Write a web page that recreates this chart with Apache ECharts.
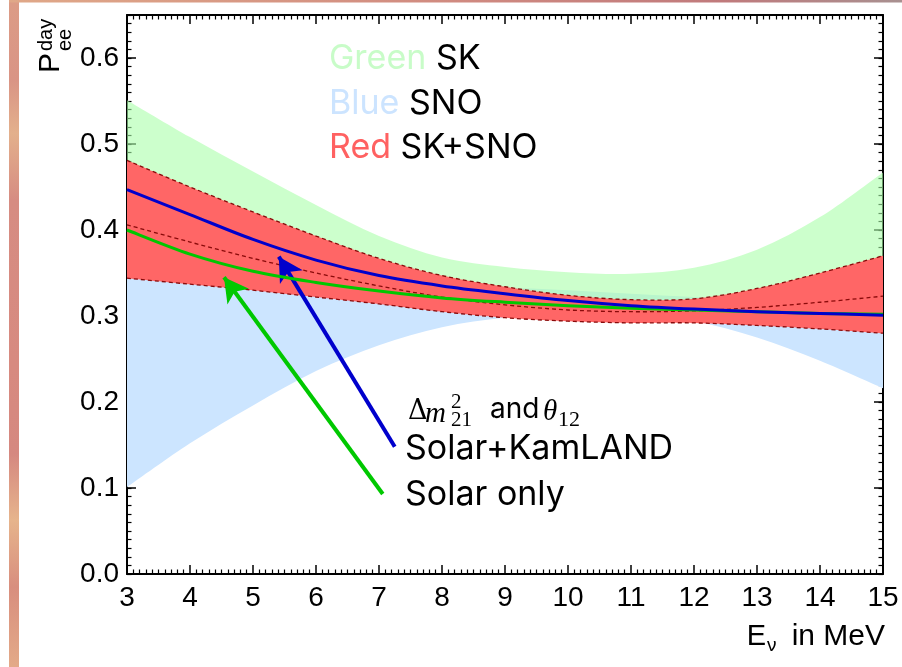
<!DOCTYPE html>
<html>
<head>
<meta charset="utf-8">
<script src="https://cdn.jsdelivr.net/npm/echarts@6/dist/echarts.min.js"></script>
<style>
  html, body { margin: 0; padding: 0; background: #ffffff; }
  #chart { width: 902px; height: 667px; }
</style>
</head>
<body>
<div id="chart"></div>
<script>
// Neutrino energy grid (MeV)
const energy = [3, 4, 5, 6, 7, 8, 9, 10, 11, 12, 13, 14, 15];

// SK allowed band
const skLow  = [0.400, 0.380, 0.362, 0.347, 0.335, 0.324, 0.316, 0.311, 0.307, 0.305, 0.304, 0.303, 0.302];
const skHigh = [0.551, 0.508, 0.468, 0.429, 0.393, 0.368, 0.357, 0.351, 0.349, 0.356, 0.377, 0.415, 0.467];

// SNO allowed band
const snoLow  = [0.101, 0.152, 0.196, 0.236, 0.266, 0.287, 0.298, 0.301, 0.300, 0.294, 0.275, 0.248, 0.216];
const snoHigh = [0.370, 0.362, 0.355, 0.348, 0.342, 0.337, 0.333, 0.330, 0.326, 0.322, 0.318, 0.314, 0.310];

// SK+SNO combined band and its central curve
const comboLow  = [0.344, 0.337, 0.330, 0.322, 0.314, 0.305, 0.298, 0.294, 0.292, 0.292, 0.289, 0.285, 0.280];
const comboMid  = [0.406, 0.386, 0.367, 0.350, 0.335, 0.322, 0.313, 0.307, 0.305, 0.306, 0.310, 0.316, 0.323];
const comboHigh = [0.481, 0.450, 0.421, 0.393, 0.367, 0.347, 0.334, 0.324, 0.319, 0.320, 0.332, 0.350, 0.370];

// Best-fit predictions
const solarOnly    = [0.400, 0.372, 0.352, 0.339, 0.329, 0.321, 0.316, 0.312, 0.309, 0.307, 0.305, 0.303, 0.302];
const solarKamLAND = [0.447, 0.418, 0.389, 0.365, 0.347, 0.335, 0.326, 0.318, 0.312, 0.308, 0.305, 0.303, 0.301];

// Arrow annotations: [tail, head] as [E, P]
const arrowKamLAND = [[7.25, 0.148], [5.41, 0.369]];
const arrowSolar   = [[7.06, 0.093], [4.54, 0.345]];

// Smooth cubic segments through already-projected pixel points
function bezierThrough(pts) {
  let d = '';
  for (let i = 0; i < pts.length - 1; i++) {
    const p0 = pts[Math.max(i - 1, 0)], p1 = pts[i], p2 = pts[i + 1], p3 = pts[Math.min(i + 2, pts.length - 1)];
    const c1 = [p1[0] + (p2[0] - p0[0]) / 6, p1[1] + (p2[1] - p0[1]) / 6];
    const c2 = [p2[0] - (p3[0] - p1[0]) / 6, p2[1] - (p3[1] - p1[1]) / 6];
    d += ` C${c1[0]} ${c1[1]} ${c2[0]} ${c2[1]} ${p2[0]} ${p2[1]}`;
  }
  return d;
}
const project = (api, ys) => energy.map((e, i) => api.coord([e, ys[i]]));

function bandSeries(name, lo, hi, color, z) {
  return {
    name: name, type: 'custom', coordinateSystem: 'cartesian2d', z: z, silent: true,
    data: [[energy[0], lo[0]]],
    renderItem: (params, api) => {
      const up = project(api, hi);
      const dn = project(api, lo).reverse();
      const d = `M${up[0][0]} ${up[0][1]}` + bezierThrough(up) + ` L${dn[0][0]} ${dn[0][1]}` + bezierThrough(dn) + ' Z';
      return { type: 'path', shape: { pathData: d }, style: { fill: color, stroke: 'none' } };
    }
  };
}

function curveSeries(name, ys, stroke, width, dash, z) {
  return {
    name: name, type: 'custom', coordinateSystem: 'cartesian2d', z: z, silent: true,
    data: [[energy[0], ys[0]]],
    renderItem: (params, api) => {
      const p = project(api, ys);
      const d = `M${p[0][0]} ${p[0][1]}` + bezierThrough(p);
      return { type: 'path', shape: { pathData: d },
        style: { fill: 'none', stroke: stroke, lineWidth: width, lineDash: dash || null, lineCap: 'butt', lineJoin: 'round' } };
    }
  };
}

const tickFont = { fontFamily: 'Liberation Sans', fontSize: 28, color: '#000' };
const frameLine = { show: true, onZero: false, lineStyle: { color: '#000', width: 2 } };
const majorTick = { show: true, inside: true, length: 9, lineStyle: { color: '#000', width: 1.5 } };
const minorTickStyle = { show: true, inside: true, length: 4.5, lineStyle: { color: '#000', width: 1.2 } };

const chart = echarts.init(document.getElementById('chart'), null, { renderer: 'canvas' });

const option = {
  animation: false,
  backgroundColor: '#ffffff',
  grid: { left: 127, top: 15, right: 19, bottom: 93, containLabel: false },
  xAxis: [
    { type: 'value', position: 'bottom', min: 3, max: 15, interval: 1,
      axisLine: frameLine, axisTick: majorTick,
      minorTick: { show: true, splitNumber: 10, length: 4.5, lineStyle: { color: '#000', width: 1.2 } },
      axisLabel: Object.assign({ margin: 10 }, tickFont), splitLine: { show: false } },
    { type: 'value', position: 'top', min: 3, max: 15, interval: 1,
      axisLine: frameLine, axisTick: majorTick,
      minorTick: { show: true, splitNumber: 10, length: 4.5, lineStyle: { color: '#000', width: 1.2 } },
      axisLabel: { show: false }, splitLine: { show: false } }
  ],
  yAxis: [
    { type: 'value', position: 'left', min: 0, max: 0.65, interval: 0.1,
      axisLine: frameLine, axisTick: majorTick,
      axisLabel: Object.assign({ margin: 8, formatter: (v) => (Math.abs(v * 10 - Math.round(v * 10)) < 1e-6 ? v.toFixed(1) : '') }, tickFont),
      splitLine: { show: false } },
    { type: 'value', position: 'left', min: 0, max: 0.65, interval: 0.01,
      axisLine: { show: false }, axisTick: minorTickStyle, axisLabel: { show: false }, splitLine: { show: false } },
    { type: 'value', position: 'right', min: 0, max: 0.65, interval: 0.1,
      axisLine: frameLine, axisTick: majorTick, axisLabel: { show: false }, splitLine: { show: false } },
    { type: 'value', position: 'right', min: 0, max: 0.65, interval: 0.01,
      axisLine: { show: false }, axisTick: minorTickStyle, axisLabel: { show: false }, splitLine: { show: false } }
  ],
  series: [
    bandSeries('SNO', snoLow, snoHigh, '#cce5ff', 1),
    bandSeries('SK', skLow, skHigh, 'rgba(170,255,170,0.6)', 2),
    bandSeries('SK+SNO', comboLow, comboHigh, '#ff6666', 3),
    curveSeries('SK+SNO upper', comboHigh, '#8a0a0a', 1.3, [4, 3], 4),
    curveSeries('SK+SNO central', comboMid, '#8a0a0a', 1.3, [4, 3], 4),
    curveSeries('SK+SNO lower', comboLow, '#8a0a0a', 1.3, [4, 3], 4),
    curveSeries('Solar only', solarOnly, '#00c800', 3, null, 5),
    curveSeries('Solar+KamLAND', solarKamLAND, '#0000cc', 3, null, 6),
    { type: 'line', data: [], z: 8, silent: true,
      markLine: {
        silent: true, animation: false, symbol: ['none', 'arrow'], symbolSize: [20, 24],
        label: { show: false },
        data: [
          [{ coord: arrowKamLAND[0], lineStyle: { color: '#0000cc', width: 4, type: 'solid' }, itemStyle: { color: '#0000cc' } },
           { coord: arrowKamLAND[1] }],
          [{ coord: arrowSolar[0], lineStyle: { color: '#00c800', width: 4, type: 'solid' }, itemStyle: { color: '#00c800' } },
           { coord: arrowSolar[1] }]
        ]
      } }
  ],
  graphic: [
    // decorative edge strips
    { type: 'rect', z: 0, shape: { x: 9, y: 0, width: 10, height: 667 },
      style: { fill: new echarts.graphic.LinearGradient(0, 0, 0, 1, [
        { offset: 0, color: '#dc9c86' }, { offset: 0.12, color: '#d99485' }, { offset: 0.2, color: '#e3b08c' },
        { offset: 0.3, color: '#d68c82' }, { offset: 0.55, color: '#d78a80' }, { offset: 0.68, color: '#d58880' },
        { offset: 0.78, color: '#e6b48c' }, { offset: 0.88, color: '#d88e7e' }, { offset: 1, color: '#e3aa88' }]) } },
    { type: 'rect', z: 0, shape: { x: 9, y: 0, width: 893, height: 2.5 },
      style: { fill: new echarts.graphic.LinearGradient(0, 0, 1, 0, [
        { offset: 0, color: '#e0a888' }, { offset: 0.5, color: '#d08a80' }, { offset: 0.8, color: '#c07a7c' },
        { offset: 1, color: '#a89090' }]) } },

    // band legend
    { type: 'text', x: 329, y: 59, z: 20, style: { text: '{c|Green} {k|SK}', font: '34px Inter', verticalAlign: 'middle',
      rich: { c: { fill: '#c8fcc8', font: '34px Inter' }, k: { fill: '#000', font: '34px Inter' } } } },
    { type: 'text', x: 329, y: 104, z: 20, style: { text: '{c|Blue} {k|SNO}', font: '34px Inter', verticalAlign: 'middle',
      rich: { c: { fill: '#cce4ff', font: '34px Inter' }, k: { fill: '#000', font: '34px Inter' } } } },
    { type: 'text', x: 329, y: 148, z: 20, style: { text: '{c|Red} {k|SK+SNO}', font: '34px Inter', verticalAlign: 'middle',
      rich: { c: { fill: '#ff6161', font: '34px Inter' }, k: { fill: '#000', font: '34px Inter' } } } },

    // oscillation-parameter caption
    { type: 'text', x: 408, y: 412, z: 20, style: { text: 'Δ', fill: '#000', font: '27px "DejaVu Serif"', verticalAlign: 'middle' } },
    { type: 'text', x: 425, y: 414, z: 20, style: { text: 'm', fill: '#000', font: 'italic 29px "Liberation Serif"', verticalAlign: 'middle' } },
    { type: 'text', x: 451, y: 402, z: 20, style: { text: '2', fill: '#000', font: '21px "Liberation Serif"', verticalAlign: 'middle' } },
    { type: 'text', x: 451, y: 420, z: 20, style: { text: '21', fill: '#000', font: '21px "Liberation Serif"', verticalAlign: 'middle' } },
    { type: 'text', x: 490, y: 410, z: 20, style: { text: 'and', fill: '#000', font: '28px Inter', verticalAlign: 'middle' } },
    { type: 'text', x: 543, y: 412, z: 20, style: { text: 'θ', fill: '#000', font: 'italic 29px "Liberation Serif"', verticalAlign: 'middle' } },
    { type: 'text', x: 558, y: 420, z: 20, style: { text: '12', fill: '#000', font: '22px "Liberation Serif"', verticalAlign: 'middle' } },

    // arrow captions
    { type: 'text', x: 405, y: 449, z: 20, style: { text: 'Solar+KamLAND', fill: '#000', font: '34px Inter', verticalAlign: 'middle' } },
    { type: 'text', x: 405, y: 495, z: 20, style: { text: 'Solar only', fill: '#000', font: '34px Inter', verticalAlign: 'middle' } },

    // x-axis title
    { type: 'text', x: 766, y: 637, z: 20, style: { text: 'E', fill: '#000', font: '29px "Liberation Sans"', align: 'right', verticalAlign: 'middle' } },
    { type: 'text', x: 767, y: 646, z: 20, style: { text: 'ν', fill: '#000', font: '19px "Liberation Sans"', verticalAlign: 'middle' } },
    { type: 'text', x: 885, y: 637, z: 20, style: { text: 'in MeV', fill: '#000', font: '30px "Liberation Sans"', align: 'right', verticalAlign: 'middle' } },

    // y-axis title, reading upward
    { type: 'group', x: 62, y: 73, rotation: Math.PI / 2, z: 20, children: [
      { type: 'text', x: 0, y: -11, style: { text: 'P', fill: '#000', font: '30px "Liberation Sans"', verticalAlign: 'middle' } },
      { type: 'text', x: 22, y: -16, style: { text: 'day', fill: '#000', font: '20px "Liberation Sans"', verticalAlign: 'middle' } },
      { type: 'text', x: 22, y: 3, style: { text: 'ee', fill: '#000', font: '20px "Liberation Sans"', verticalAlign: 'middle' } }
    ] }
  ]
};

chart.setOption(option);
</script>
</body>
</html>
